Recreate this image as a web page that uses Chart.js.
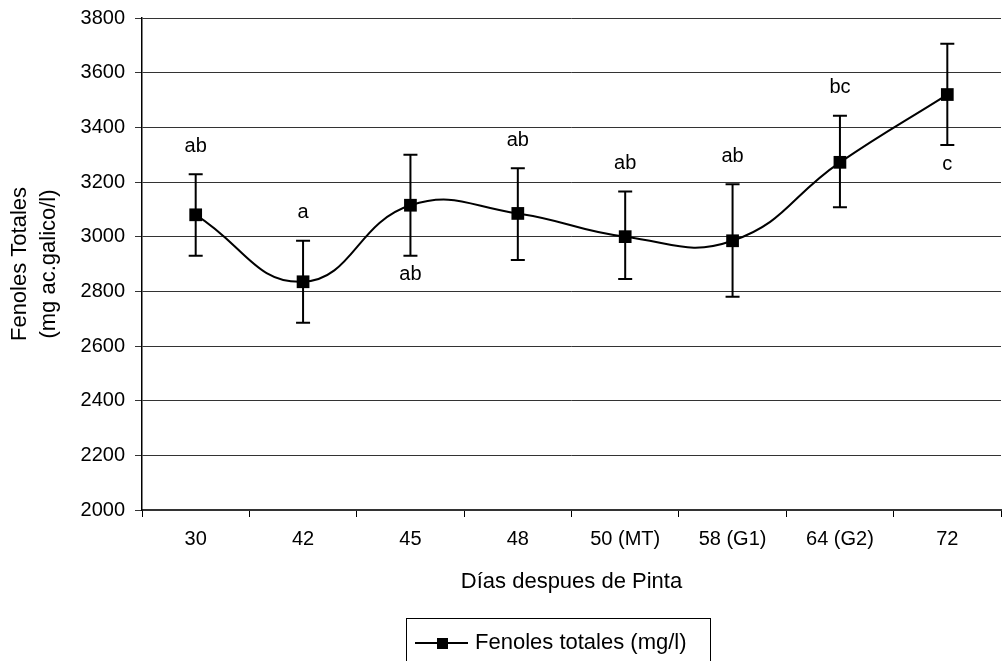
<!DOCTYPE html>
<html>
<head>
<meta charset="utf-8">
<script src="https://cdn.jsdelivr.net/npm/chart.js@4.4.0/dist/chart.umd.min.js"></script>
<style>
html, body { margin: 0; padding: 0; background: #fff; overflow: hidden; }
#wrap { width: 1002px; height: 661px; overflow: hidden; }
</style>
</head>
<body>
<div id="wrap"><canvas id="myChart" width="1010" height="661"></canvas></div>
<script>
// datos
let dias = ['30', '42', '45', '48', '50 (MT)', '58 (G1)', '64 (G2)', '72'];
let fenoles = [3080, 2835, 3115, 3085, 3000, 2985, 3272, 3520];
let errBajo = [2930, 2685, 2930, 2915, 2845, 2780, 3108, 3335];
let errAlto = [3228, 2985, 3300, 3250, 3165, 3192, 3442, 3706];
let letras = ['ab', 'a', 'ab', 'ab', 'ab', 'ab', 'bc', 'c'];
let letraArriba = [true, true, false, true, true, true, true, false];
let yMin = 2000;
let yMax = 3800;
let yPaso = 200;

const fuente = "'Liberation Sans', Arial, sans-serif";

const barrasError = {
    id: 'barrasError',
    beforeDatasetsDraw(chart) {
        const ctx = chart.ctx;
        const meta = chart.getDatasetMeta(0);
        const y = chart.scales.y;
        ctx.save();
        ctx.strokeStyle = '#000';
        ctx.lineWidth = 2;
        meta.data.forEach((pt, i) => {
            const yA = y.getPixelForValue(errAlto[i]);
            const yB = y.getPixelForValue(errBajo[i]);
            ctx.beginPath();
            ctx.moveTo(pt.x, yA);
            ctx.lineTo(pt.x, yB);
            ctx.moveTo(pt.x - 7, yA);
            ctx.lineTo(pt.x + 7, yA);
            ctx.moveTo(pt.x - 7, yB);
            ctx.lineTo(pt.x + 7, yB);
            ctx.stroke();
        });
        ctx.restore();
    }
};

const letrasPlugin = {
    id: 'letrasPlugin',
    afterDatasetsDraw(chart) {
        const ctx = chart.ctx;
        const meta = chart.getDatasetMeta(0);
        const y = chart.scales.y;
        ctx.save();
        ctx.fillStyle = '#000';
        ctx.font = '20px ' + fuente;
        ctx.textAlign = 'center';
        ctx.textBaseline = 'middle';
        meta.data.forEach((pt, i) => {
            let ty;
            if (letraArriba[i]) {
                ty = y.getPixelForValue(errAlto[i]) - 28;
            } else {
                ty = y.getPixelForValue(errBajo[i]) + 19;
            }
            ctx.fillText(letras[i], pt.x, ty);
        });
        ctx.restore();
    }
};

// leyenda con recuadro, como en el original
const leyenda = {
    id: 'leyenda',
    afterDraw(chart) {
        const ctx = chart.ctx;
        const ds = chart.data.datasets[0];
        ctx.save();
        ctx.strokeStyle = '#000';
        ctx.lineWidth = 1;
        ctx.strokeRect(406.5, 618.5, 304, 60);
        ctx.lineWidth = 2;
        ctx.beginPath();
        ctx.moveTo(415, 643);
        ctx.lineTo(468, 643);
        ctx.stroke();
        ctx.fillStyle = '#000';
        ctx.fillRect(437, 638, 11, 11);
        ctx.font = '22px ' + fuente;
        ctx.textAlign = 'left';
        ctx.textBaseline = 'middle';
        ctx.fillText(ds.label, 475, 643);
        ctx.restore();
    }
};

const data = {
    labels: dias,
    datasets: [{
        label: 'Fenoles totales (mg/l)',
        data: fenoles,
        borderColor: '#000',
        backgroundColor: '#000',
        borderWidth: 2,
        tension: 0.45,
        pointStyle: 'rect',
        pointRadius: 9,
        pointHoverRadius: 9,
        pointBackgroundColor: '#000',
        pointBorderColor: '#000',
        pointBorderWidth: 0
    }]
};

const config = {
    type: 'line',
    data: data,
    options: {
        responsive: false,
        animation: false,
        layout: {
            padding: { top: 18, bottom: 66, left: 0, right: 2 }
        },
        plugins: {
            legend: { display: false },
            tooltip: { enabled: false }
        },
        scales: {
            x: {
                offset: true,
                afterFit: (scale) => { scale.height = 85; },
                grid: {
                    offset: true,
                    drawOnChartArea: false,
                    drawTicks: true,
                    tickLength: 7,
                    color: '#000'
                },
                border: { display: true, color: '#333', width: 2 },
                ticks: {
                    color: '#000',
                    padding: 10,
                    maxRotation: 0,
                    autoSkip: false,
                    font: { family: fuente, size: 20 }
                },
                title: {
                    display: true,
                    text: 'Días despues de Pinta',
                    color: '#000',
                    padding: 0,
                    font: { family: fuente, size: 22 }
                }
            },
            y: {
                min: yMin,
                max: yMax,
                afterFit: (scale) => {
                    scale.width = 142;
                    scale.paddingTop = 0;
                    scale.paddingBottom = 0;
                },
                grid: {
                    color: '#333',
                    lineWidth: 1,
                    tickLength: 7
                },
                border: { display: true, color: '#000', width: 1.5 },
                ticks: {
                    stepSize: yPaso,
                    color: '#000',
                    padding: 10,
                    font: { family: fuente, size: 20 },
                    callback: (v) => String(v)
                },
                title: {
                    display: true,
                    text: ['Fenoles Totales', '(mg ac.galico/l)'],
                    color: '#000',
                    padding: { top: 6, bottom: 0 },
                    font: { family: fuente, size: 22, lineHeight: 1.3 }
                }
            }
        }
    },
    plugins: [barrasError, letrasPlugin, leyenda]
};

let myChart = new Chart(
    document.getElementById('myChart'),
    config
);
</script>
</body>
</html>
